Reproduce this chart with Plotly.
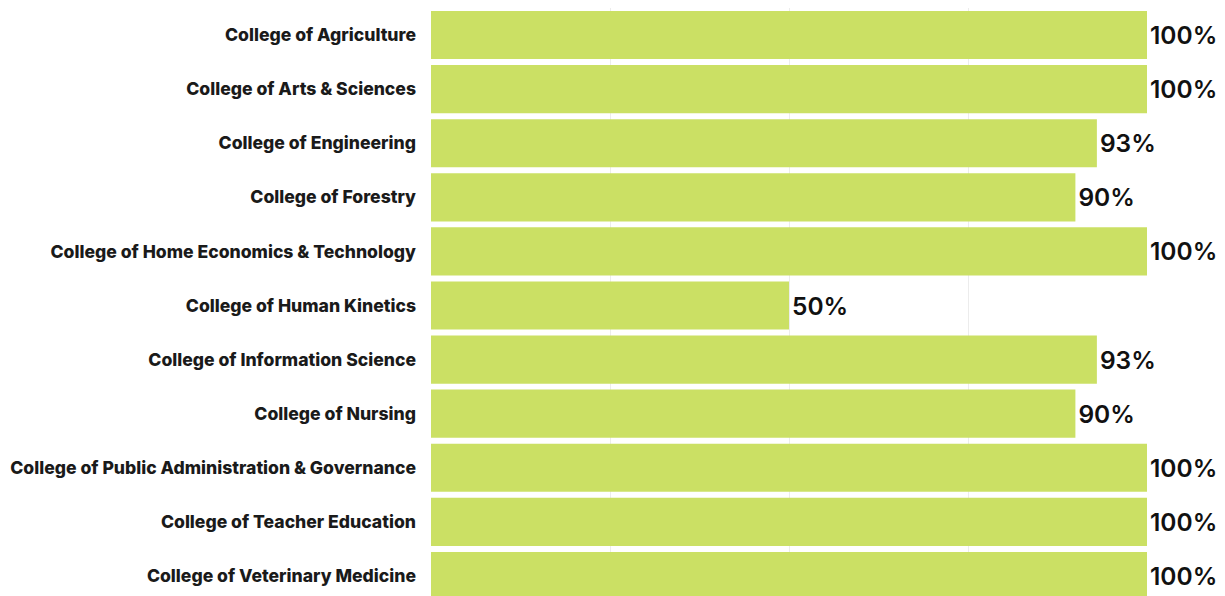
import plotly.graph_objects as go

colleges = [
    "College of Agriculture",
    "College of Arts & Sciences",
    "College of Engineering",
    "College of Forestry",
    "College of Home Economics & Technology",
    "College of Human Kinetics",
    "College of Information Science",
    "College of Nursing",
    "College of Public Administration & Governance",
    "College of Teacher Education",
    "College of Veterinary Medicine",
]
percent = [100, 100, 93, 90, 100, 50, 93, 90, 100, 100, 100]

fig = go.Figure(
    go.Bar(
        x=percent,
        y=colleges,
        orientation="h",
        marker=dict(color="#cbe064", line=dict(width=0)),
        text=[f"{v}%" for v in percent],
        textposition="outside",
        textfont=dict(family="Inter", size=24.5, color="#111111", weight=600),
        cliponaxis=False,
        hoverinfo="skip",
    )
)

fig.update_layout(
    width=1225,
    height=598,
    margin=dict(l=423, r=86, t=0, b=3),
    paper_bgcolor="white",
    plot_bgcolor="white",
    bargap=0.11,
    showlegend=False,
    xaxis=dict(
        range=[0, 100],
        showticklabels=False,
        showgrid=True,
        gridcolor="#ececec",
        gridwidth=1,
        tickvals=[25, 50, 75, 100],
        zeroline=False,
        showline=False,
        fixedrange=True,
    ),
    yaxis=dict(
        autorange="reversed",
        tickfont=dict(family="Inter", size=17.6, color="#1a1a1a", weight=800),
        ticks="",
        ticklabelstandoff=14,
        showgrid=False,
        zeroline=False,
        showline=False,
    ),
)

fig.write_html("out.html")
